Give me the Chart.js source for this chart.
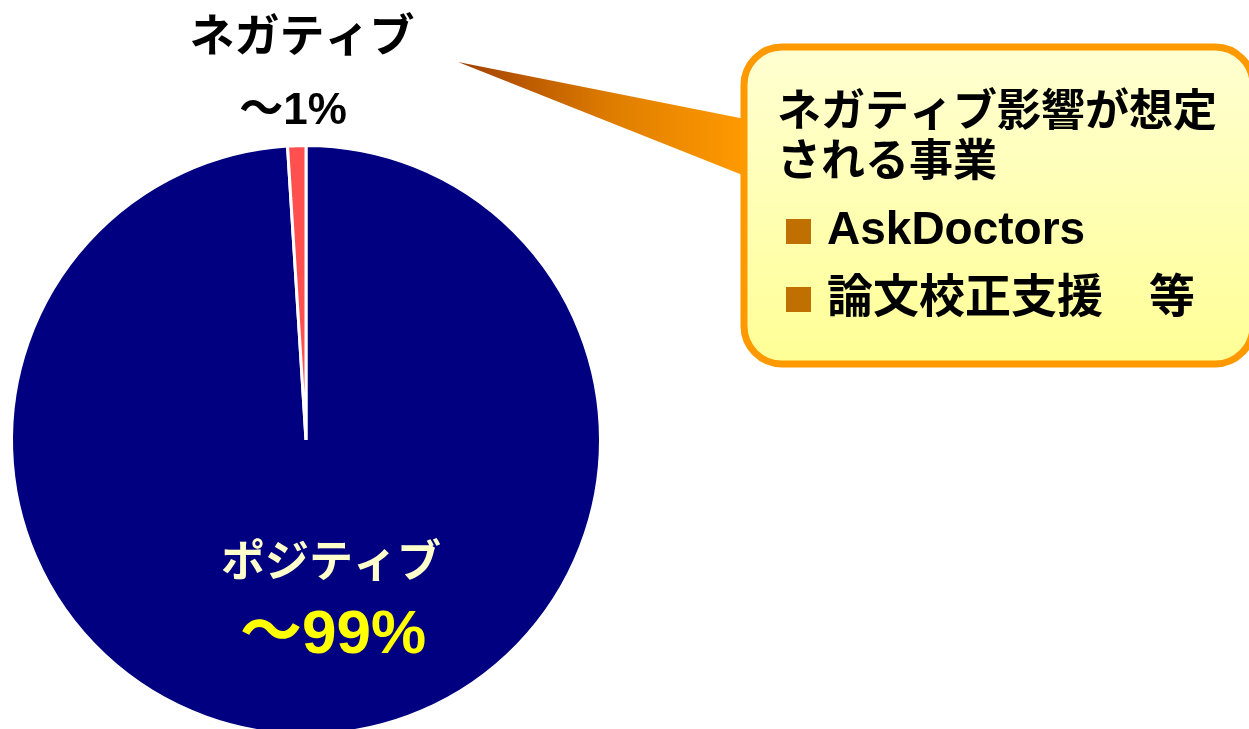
<!DOCTYPE html>
<html lang="ja">
<head>
<meta charset="utf-8">
<script src="https://cdn.jsdelivr.net/npm/chart.js@4/dist/chart.umd.min.js"></script>
<style>
  html, body { margin: 0; padding: 0; background: #ffffff; }
  #frame { width: 1249px; height: 729px; overflow: hidden; position: relative; }
  #holder { width: 1249px; height: 760px; position: absolute; left: 0; top: 0; }
</style>
</head>
<body>
<div id="frame"><div id="holder"><canvas id="pie"></canvas></div></div>
<script>
// Share of business by expected impact
const categories = ['ポジティブ', 'ネガティブ'];
const shares = [99, 1];
const shareLabels = ['～99%', '～1%'];
const sliceColors = ['#000080', '#FF5050'];

// Callout listing the businesses with an expected negative impact
const calloutTitle = ['ネガティブ影響が想定', 'される事業'];
const calloutItems = ['AskDoctors', '論文校正支援　等'];

const FONT = '"Liberation Sans", "Noto Sans CJK JP", sans-serif';

const annotations = {
  id: 'annotations',
  afterDraw(chart) {
    const ctx = chart.ctx;
    const arc = chart.getDatasetMeta(0).data[0];
    const cx = arc.x, cy = arc.y;

    ctx.save();
    ctx.textAlign = 'center';
    ctx.textBaseline = 'middle';

    // slice labels
    ctx.font = 'bold 44px ' + FONT;
    ctx.fillStyle = '#FFFFCC';
    ctx.fillText(categories[0], cx + 25, cy + 125);
    ctx.font = 'bold 62px ' + FONT;
    ctx.fillStyle = '#FFFF00';
    ctx.fillText(shareLabels[0], cx + 27, cy + 196);

    ctx.font = 'bold 45px ' + FONT;
    ctx.fillStyle = '#000000';
    ctx.fillText(categories[1], cx - 4, cy - 400);
    ctx.font = 'bold 44px ' + FONT;
    ctx.fillText(shareLabels[1], cx - 13, cy - 328);

    // pointer wedge from the label to the callout
    const tip = { x: 458, y: 62 };
    const grad = ctx.createLinearGradient(tip.x, 0, 745, 0);
    grad.addColorStop(0, '#A04000');
    grad.addColorStop(0.55, '#E07E00');
    grad.addColorStop(1, '#FF9A00');
    ctx.beginPath();
    ctx.moveTo(tip.x, tip.y);
    ctx.lineTo(750, 120);
    ctx.lineTo(750, 178);
    ctx.closePath();
    ctx.fillStyle = grad;
    ctx.fill();

    // callout box
    const bx = 744, by = 47, bw = 509, bh = 317, r = 38;
    const fill = ctx.createLinearGradient(0, by, 0, by + bh);
    fill.addColorStop(0, '#FFFFD2');
    fill.addColorStop(1, '#FFFF96');
    ctx.beginPath();
    ctx.roundRect(bx, by, bw, bh, r);
    ctx.fillStyle = fill;
    ctx.fill();
    ctx.lineWidth = 7;
    ctx.strokeStyle = '#FF9900';
    ctx.stroke();

    // callout text
    ctx.textAlign = 'left';
    ctx.fillStyle = '#000000';
    ctx.font = 'bold 44px ' + FONT;
    calloutTitle.forEach((t, i) => ctx.fillText(t, 777, 114 + i * 50));

    ctx.font = 'bold 46px ' + FONT;
    calloutItems.forEach((t, i) => {
      const y = 231 + i * 68;
      ctx.fillStyle = '#C07000';
      ctx.fillRect(786, y - 12, 25, 25);
      ctx.fillStyle = '#000000';
      ctx.fillText(t, 827, y);
    });
    ctx.restore();
  }
};

new Chart(document.getElementById('pie'), {
  type: 'pie',
  data: {
    labels: categories,
    datasets: [{
      data: shares,
      backgroundColor: sliceColors,
      borderColor: '#FFFFFF',
      borderWidth: 3
    }]
  },
  options: {
    responsive: true,
    maintainAspectRatio: false,
    animation: false,
    events: [],
    layout: { padding: { left: 10, right: 647, top: 144, bottom: 24 } },
    plugins: {
      legend: { display: false },
      tooltip: { enabled: false }
    }
  },
  plugins: [annotations]
});
</script>
</body>
</html>
